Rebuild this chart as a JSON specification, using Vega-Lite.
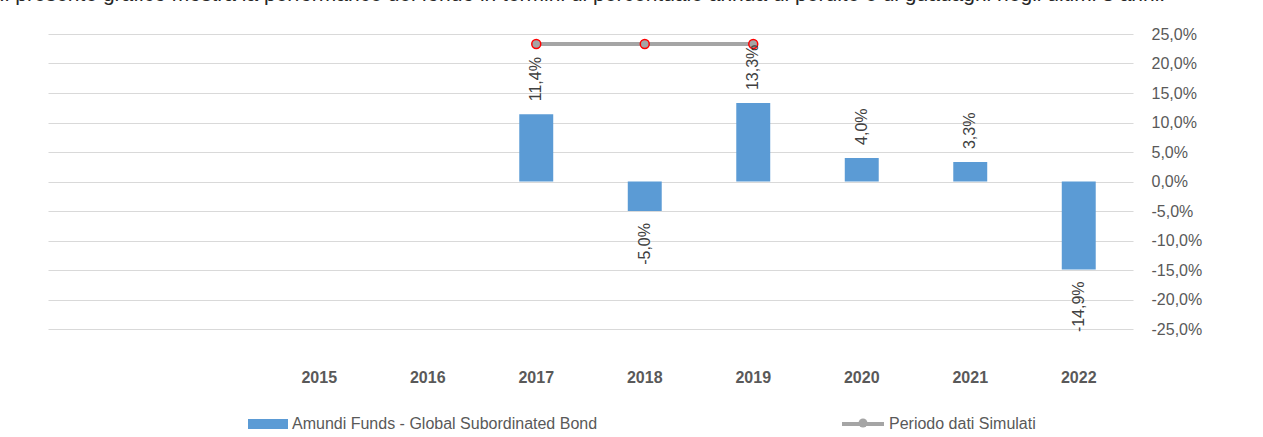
{
  "$schema": "https://vega.github.io/schema/vega-lite/v6.json",
  "width": 1085,
  "height": 295,
  "autosize": {"type": "none"},
  "padding": {"left": 48, "top": 34, "right": 130, "bottom": 108},
  "background": "white",
  "config": {
    "locale": {"number": {"decimal": ",", "thousands": ".", "grouping": [3], "currency": ["", " €"], "minus": "-"}},
    "font": "Liberation Sans",
    "view": {"stroke": null},
    "axisY": {"grid": true, "gridColor": "#d9d9d9", "gridWidth": 1, "domain": false, "ticks": false, "labelPadding": 18, "labelAlign": "left", "labelFontSize": 16, "labelColor": "#595959", "labelOverlap": false, "labelBound": false, "tickCount": 20}
  },
  "title": {
    "text": "Il presente grafico mostra la performance del fondo in termini di percentuale annua di perdite e di guadagni negli ultimi 8 anni.",
    "anchor": "start",
    "frame": "group",
    "orient": "top",
    "offset": 4,
    "baseline": "alphabetic",
    "dx": -49,
    "fontSize": 21,
    "fontWeight": "normal",
    "color": "#262626",
    "font": "Liberation Sans"
  },
  "datasets": {
    "rendimenti": [
      {"anno": "2017", "rendimento": 0.114, "serie": "Amundi Funds - Global Subordinated Bond"},
      {"anno": "2018", "rendimento": -0.05, "serie": "Amundi Funds - Global Subordinated Bond"},
      {"anno": "2019", "rendimento": 0.133, "serie": "Amundi Funds - Global Subordinated Bond"},
      {"anno": "2020", "rendimento": 0.04, "serie": "Amundi Funds - Global Subordinated Bond"},
      {"anno": "2021", "rendimento": 0.033, "serie": "Amundi Funds - Global Subordinated Bond"},
      {"anno": "2022", "rendimento": -0.149, "serie": "Amundi Funds - Global Subordinated Bond"}
    ],
    "simulati": [
      {"anno": "2017", "livello": 0.233, "periodo": "Periodo dati Simulati", "marcatore": "Periodo dati Simulati"},
      {"anno": "2018", "livello": 0.233, "periodo": "Periodo dati Simulati", "marcatore": "Periodo dati Simulati"},
      {"anno": "2019", "livello": 0.233, "periodo": "Periodo dati Simulati", "marcatore": "Periodo dati Simulati"}
    ]
  },
  "encoding": {
    "x": {
      "field": "anno",
      "type": "nominal",
      "scale": {"domain": [" ", "  ", "2015", "2016", "2017", "2018", "2019", "2020", "2021", "2022"], "paddingInner": 0.687, "paddingOuter": 0.3435},
      "axis": {"title": null, "orient": "bottom", "domain": false, "ticks": false, "grid": false, "labelPadding": 40, "labelAngle": 0, "labelFontWeight": "bold", "labelFontSize": 16, "labelColor": "#595959"}
    }
  },
  "layer": [
    {
      "data": {"name": "rendimenti"},
      "mark": {"type": "bar", "fill": "#5b9bd5"},
      "encoding": {
        "y": {
          "field": "rendimento",
          "type": "quantitative",
          "scale": {"domain": [-0.25, 0.25], "nice": false, "zero": true},
          "axis": {"orient": "right", "title": null, "values": [-0.25, -0.2, -0.15, -0.1, -0.05, 0, 0.05, 0.1, 0.15, 0.2, 0.25], "format": ".1%", "labelOverlap": false, "labelPadding": 18, "labelAlign": "left", "tickCount": 20}
        },
        "fill": {
          "field": "serie",
          "type": "nominal",
          "scale": {"range": ["#5b9bd5"]},
          "legend": {"orient": "none", "legendX": 200, "legendY": 370, "title": null, "symbolType": "M-1,-0.25H1V0.25H-1Z", "symbolSize": 1600, "symbolStrokeWidth": 0, "symbolFillColor": "#5b9bd5", "labelFontSize": 16, "labelColor": "#595959", "labelLimit": 0, "padding": 0, "labelOffset": 4}
        }
      }
    },
    {
      "data": {"name": "simulati"},
      "mark": {"type": "line", "strokeWidth": 4},
      "encoding": {
        "y": {"field": "livello", "type": "quantitative", "axis": {"orient": "right", "title": null}},
        "stroke": {
          "field": "periodo",
          "type": "nominal",
          "scale": {"range": ["#a5a5a5"]},
          "legend": {"orient": "none", "legendX": 792, "legendY": 367, "title": null, "symbolType": "stroke", "symbolSize": 1764, "symbolStrokeWidth": 4, "symbolStrokeColor": "#a5a5a5", "labelFontSize": 16, "labelColor": "#595959", "labelLimit": 0, "padding": 0, "labelOffset": 3}
        }
      }
    },
    {
      "data": {"name": "simulati"},
      "mark": {"type": "point", "filled": true, "fill": "#a5a5a5", "stroke": "#ff0000", "strokeWidth": 1.5, "size": 80, "opacity": 1},
      "encoding": {
        "y": {"field": "livello", "type": "quantitative", "axis": {"orient": "right", "title": null}},
        "shape": {
          "field": "marcatore",
          "type": "nominal",
          "scale": {"range": ["circle"]},
          "legend": {"orient": "none", "legendX": 807, "legendY": 381, "title": null, "symbolSize": 80, "symbolFillColor": "#a5a5a5", "symbolStrokeColor": "#ff0000", "symbolStrokeWidth": 1.5, "labelExpr": "''", "labelFontSize": 16, "labelLimit": 0, "padding": 0}
        }
      }
    },
    {
      "data": {"name": "rendimenti"},
      "transform": [{"filter": "datum.rendimento >= 0"}],
      "mark": {"type": "text", "angle": 270, "align": "left", "baseline": "middle", "dx": 13, "fontSize": 16, "color": "#404040"},
      "encoding": {
        "y": {"field": "rendimento", "type": "quantitative", "axis": {"orient": "right", "title": null}},
        "text": {"field": "rendimento", "type": "quantitative", "format": ".1%"}
      }
    },
    {
      "data": {"name": "rendimenti"},
      "transform": [{"filter": "datum.rendimento < 0"}],
      "mark": {"type": "text", "angle": 270, "align": "right", "baseline": "middle", "dx": -12, "fontSize": 16, "color": "#404040"},
      "encoding": {
        "y": {"field": "rendimento", "type": "quantitative", "axis": {"orient": "right", "title": null}},
        "text": {"field": "rendimento", "type": "quantitative", "format": ".1%"}
      }
    }
  ]
}
